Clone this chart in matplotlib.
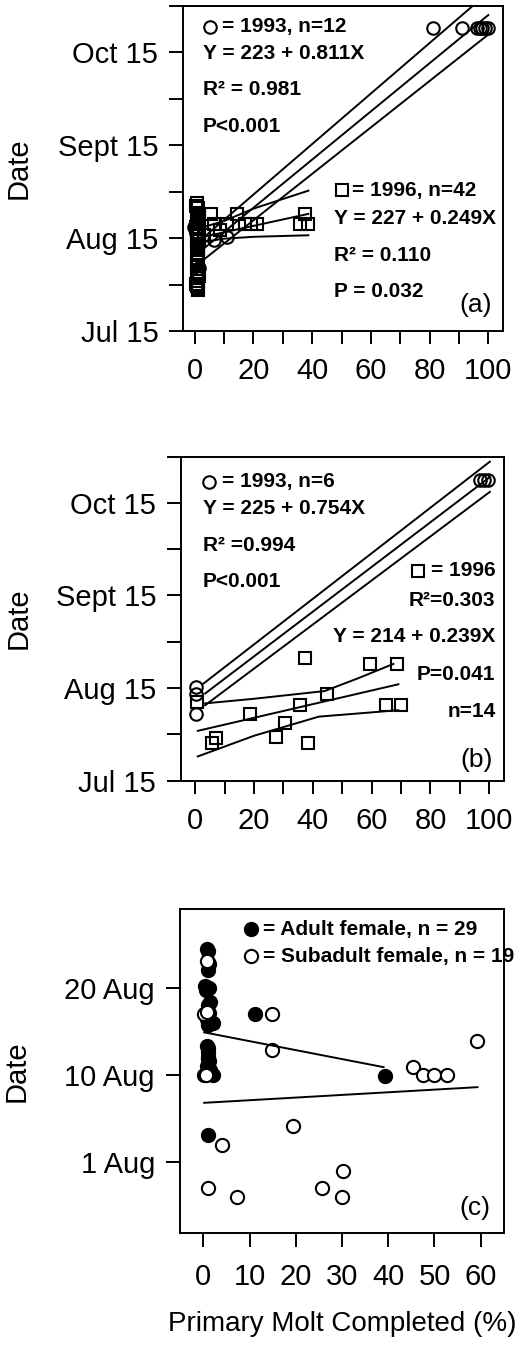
import matplotlib.pyplot as plt

plt.rcParams['font.family'] = ['Liberation Sans', 'DejaVu Sans']

# ---- panel (a): date (day units) vs primary molt (%) ----
a93_x = [-0.2, 1.5, 6.5, 11.0, 0.5, 81, 91, 96, 97, 98, 99, 100]
a93_y = [228.5, 215.2, 224.3, 225.3, 226.5, 292.8, 292.8, 292.8, 292.8, 292.8, 292.8, 292.8]
a96_x = [0.8, 1.2, 0.6, 1.0, 1.4, 0.5, 1.1, 0.9, 1.3, 0.7, 1.0, 1.2, 0.8, 1.1, 0.9,
         1.0, 0.7, 1.2, 0.4, 1.5, 0.9, 1.3, 0.6, 1.0, 1.1, 0.8, 1.4, 0.5, 1.2, 1.0,
         5.4, 6.5, 11.1, 14.4, 17.2, 19.0, 21.2, 35.9, 37.6, 38.7, 3.0, 8.5]
a96_y = [236.2, 234.8, 233.1, 231.5, 229.6, 228.7, 227.1, 225.9, 224.6, 223.0, 221.4, 220.2,
         218.7, 217.3, 214.2, 211.0, 209.4, 208.3, 235.5, 232.0, 230.1, 226.4, 224.0, 222.2,
         219.5, 216.0, 212.6, 210.2, 208.8, 228.0,
         232.8, 229.6, 229.6, 232.8, 229.6, 229.6, 229.6, 229.6, 232.8, 229.6, 226.0, 227.5]
# regression line and confidence bands
a93_fit_x, a93_fit_y = [1, 100], [220.0, 297.0]
a93_up_x, a93_up_y = [4, 96], [226.0, 301.0]
a93_lo_x, a93_lo_y = [1, 100], [216.5, 290.7]
a96_fit_x, a96_fit_y = [1, 38.7], [225.0, 232.8]
a96_up_x, a96_up_y = [1, 10, 20, 38.7], [228.0, 230.5, 234.5, 240.3]
a96_lo_x, a96_lo_y = [1, 10, 20, 38.7], [223.5, 224.8, 225.4, 225.9]

# ---- panel (b) ----
b93_x = [0.3, 0.3, 0.3, 97.0, 98.3, 99.6]
b93_y = [225.3, 223.2, 216.7, 292.6, 292.6, 292.6]
b96_x = [0.6, 7.1, 5.6, 18.7, 27.6, 30.6, 35.5, 37.2, 38.5, 44.8, 59.3, 64.9, 68.6, 70.0]
b96_y = [220.5, 208.9, 207.1, 216.5, 209.0, 213.7, 219.4, 234.6, 207.1, 223.1, 232.8, 219.4, 232.8, 219.4]
b93_fit_x, b93_fit_y = [3.4, 100.2], [223.2, 293.4]
b93_up_x, b93_up_y = [2.8, 100.2], [226.4, 298.4]
b93_lo_x, b93_lo_y = [3.4, 100.2], [219.4, 288.6]
b96_fit_x, b96_fit_y = [0.9, 69.1], [211.1, 226.2]
b96_up_x, b96_up_y = [3.4, 20, 44, 55, 67.4], [220.0, 221.5, 224.0, 228.0, 232.8]
b96_lo_x, b96_lo_y = [0.9, 20, 42, 69.1], [202.8, 209.5, 215.7, 217.8]

# ---- panel (c): day of August ----
adult_x = [1.1, 1.1, 1.1, 0.4, 1.2, 1.0, 1.2, 1.1, 2.0, 0.8, 1.0, 1.1, 0.9, 1.3, 2.0,
           1.0, 1.2, 0.7, 1.4, 11.2, 39.2, 1.1, 0.9, 1.2, 0.6, 1.4, 1.0, 1.1, 1.5]
adult_y = [24.2, 23.0, 22.1, 20.2, 20.0, 18.0, 17.1, 16.0, 16.0, 16.4, 13.1, 12.1, 11.0, 10.3, 10.0,
           12.6, 11.6, 13.3, 10.6, 17.0, 9.9, 3.1, 24.5, 22.8, 19.8, 18.4, 15.8, 11.8, 10.1]
sub_x = [0.9, 0.2, 14.8, 14.8, 0.2, 59.2, 45.3, 47.5, 49.8, 52.7, 19.3, 4.1, 30.2, 25.6,
         30.0, 7.2, 1.1, 0.5, 0.8]
sub_y = [23.1, 17.0, 17.0, 12.9, 10.0, 13.9, 10.9, 10.0, 10.0, 10.0, 4.1, 2.0, -1.0, -3.0,
         -4.0, -4.0, -3.0, 10.0, 17.2]
adult_fit_x, adult_fit_y = [0.2, 39.0], [14.9, 10.9]
sub_fit_x, sub_fit_y = [0.2, 59.3], [6.8, 8.6]

date_ticks = [195, 225, 255, 285]
date_labels = ['Jul 15', 'Aug 15', 'Sept 15', 'Oct 15']
aug_ticks = [0, 10, 20]
aug_labels = ['1 Aug', '10 Aug', '20 Aug']

LW = 1.4
MS = 8.5
MEW = 1.5
TXT = dict(fontsize=15, fontweight='bold')

fig = plt.figure(figsize=(5.23, 13.46), dpi=100)
W, H = 523, 1346


def make_ax(left, top, right, bottom):
    ax = fig.add_axes([left / W, 1 - bottom / H, (right - left) / W, (bottom - top) / H])
    for s in ax.spines.values():
        s.set_linewidth(LW)
    ax.tick_params(which='both', direction='out', labelsize=21, width=LW)
    ax.tick_params(axis='y', which='both', length=10, pad=8)
    ax.tick_params(axis='x', which='both', length=9, pad=10)
    ax.set_ylabel('Date', fontsize=21)
    return ax


def date_axis(ax):
    ax.set_xlim(-3.9, 105)
    ax.set_ylim(195, 300)
    ax.set_xticks(range(0, 101, 20))
    ax.set_xticks(range(10, 100, 20), minor=True)
    ax.set_yticks(date_ticks)
    ax.set_yticklabels(date_labels)
    ax.set_yticks([210, 240, 270, 300], minor=True)


def key(ax, x, y, marker, filled=False, ms=MS):
    ax.plot([x], [y], marker=marker, ms=ms, mew=MEW, mec='black',
            mfc='black' if filled else 'white', transform=ax.transAxes, clip_on=False)


# (a)
ax = make_ax(183.3, 5.7, 503, 331)
date_axis(ax)
ax.plot(a93_x, a93_y, 'o', ms=MS + 0.5, mfc='none', mec='black', mew=MEW)
ax.plot(a96_x, a96_y, 's', ms=MS, mfc='none', mec='black', mew=MEW)
for xs, ys in [(a93_fit_x, a93_fit_y), (a93_up_x, a93_up_y), (a93_lo_x, a93_lo_y),
               (a96_fit_x, a96_fit_y), (a96_up_x, a96_up_y), (a96_lo_x, a96_lo_y)]:
    ax.plot(xs, ys, color='black', lw=LW)
key(ax, 0.0835, 0.935, 'o', ms=9)
ax.text(0.122, 0.935, '= 1993, n=12', transform=ax.transAxes, va='center', **TXT)
ax.text(0.062, 0.853, 'Y = 223 + 0.811X', transform=ax.transAxes, va='center', **TXT)
ax.text(0.062, 0.741, 'R² = 0.981', transform=ax.transAxes, va='center', **TXT)
ax.text(0.062, 0.628, 'P<0.001', transform=ax.transAxes, va='center', **TXT)
key(ax, 0.4955, 0.4334, 's')
ax.text(0.527, 0.4334, '= 1996, n=42', transform=ax.transAxes, va='center', **TXT)
ax.text(0.471, 0.3464, 'Y = 227 + 0.249X', transform=ax.transAxes, va='center', **TXT)
ax.text(0.471, 0.2336, 'R² = 0.110', transform=ax.transAxes, va='center', **TXT)
ax.text(0.471, 0.1208, 'P = 0.032', transform=ax.transAxes, va='center', **TXT)
ax.text(0.965, 0.08, '(a)', transform=ax.transAxes, va='center', ha='right', fontsize=19)
ax.yaxis.set_label_coords(-0.47, 0.5)

# (b)
ax = make_ax(181, 456.7, 504, 780.5)
date_axis(ax)
ax.set_xlim(-4.8, 105)
ax.plot(b93_x, b93_y, 'o', ms=MS + 0.5, mfc='none', mec='black', mew=MEW)
ax.plot(b96_x, b96_y, 's', ms=MS, mfc='none', mec='black', mew=MEW)
for xs, ys in [(b93_fit_x, b93_fit_y), (b93_up_x, b93_up_y), (b93_lo_x, b93_lo_y),
               (b96_fit_x, b96_fit_y), (b96_up_x, b96_up_y), (b96_lo_x, b96_lo_y)]:
    ax.plot(xs, ys, color='black', lw=LW)
key(ax, 0.0876, 0.9228, 'o', ms=9)
ax.text(0.127, 0.9228, '= 1993, n=6', transform=ax.transAxes, va='center', **TXT)
ax.text(0.068, 0.8406, 'Y = 225 + 0.754X', transform=ax.transAxes, va='center', **TXT)
ax.text(0.068, 0.7273, 'R² =0.994', transform=ax.transAxes, va='center', **TXT)
ax.text(0.068, 0.614, 'P<0.001', transform=ax.transAxes, va='center', **TXT)
key(ax, 0.7347, 0.648, 's')
ax.text(0.974, 0.648, '= 1996', transform=ax.transAxes, va='center', ha='right', **TXT)
ax.text(0.974, 0.5574, 'R²=0.303', transform=ax.transAxes, va='center', ha='right', **TXT)
ax.text(0.974, 0.4441, 'Y = 214 + 0.239X', transform=ax.transAxes, va='center', ha='right', **TXT)
ax.text(0.974, 0.3289, 'P=0.041', transform=ax.transAxes, va='center', ha='right', **TXT)
ax.text(0.974, 0.2125, 'n=14', transform=ax.transAxes, va='center', ha='right', **TXT)
ax.text(0.965, 0.0633, '(b)', transform=ax.transAxes, va='center', ha='right', fontsize=19)
ax.yaxis.set_label_coords(-0.46, 0.5)

# (c)
ax = make_ax(180, 909, 504.3, 1232.7)
ax.set_xlim(-5.04, 65.1)
ax.set_ylim(-8.13, 29.08)
ax.set_xticks(range(0, 61, 10))
ax.set_yticks(aug_ticks)
ax.set_yticklabels(aug_labels)
ax.tick_params(axis='x', length=10, pad=12)
ax.plot(adult_x, adult_y, 'o', ms=9.5, mfc='black', mec='black', mew=MEW)
ax.plot(sub_x, sub_y, 'o', ms=9.5, mfc='white', mec='black', mew=MEW)
ax.plot(adult_fit_x, adult_fit_y, color='black', lw=LW)
ax.plot(sub_fit_x, sub_fit_y, color='black', lw=LW)
key(ax, 0.218, 0.9382, 'o', filled=True, ms=9.5)
ax.text(0.2559, 0.9382, '= Adult female, n = 29', transform=ax.transAxes, va='center', **TXT)
key(ax, 0.218, 0.8548, 'o', ms=9.5)
ax.text(0.2559, 0.8548, '= Subadult female, n = 19', transform=ax.transAxes, va='center', **TXT)
ax.text(0.956, 0.0754, '(c)', transform=ax.transAxes, va='center', ha='right', fontsize=19)
ax.set_xlabel('Primary Molt Completed (%)', fontsize=20, labelpad=14)
ax.yaxis.set_label_coords(-0.46, 0.5)

fig.savefig('out.png', dpi=100)
